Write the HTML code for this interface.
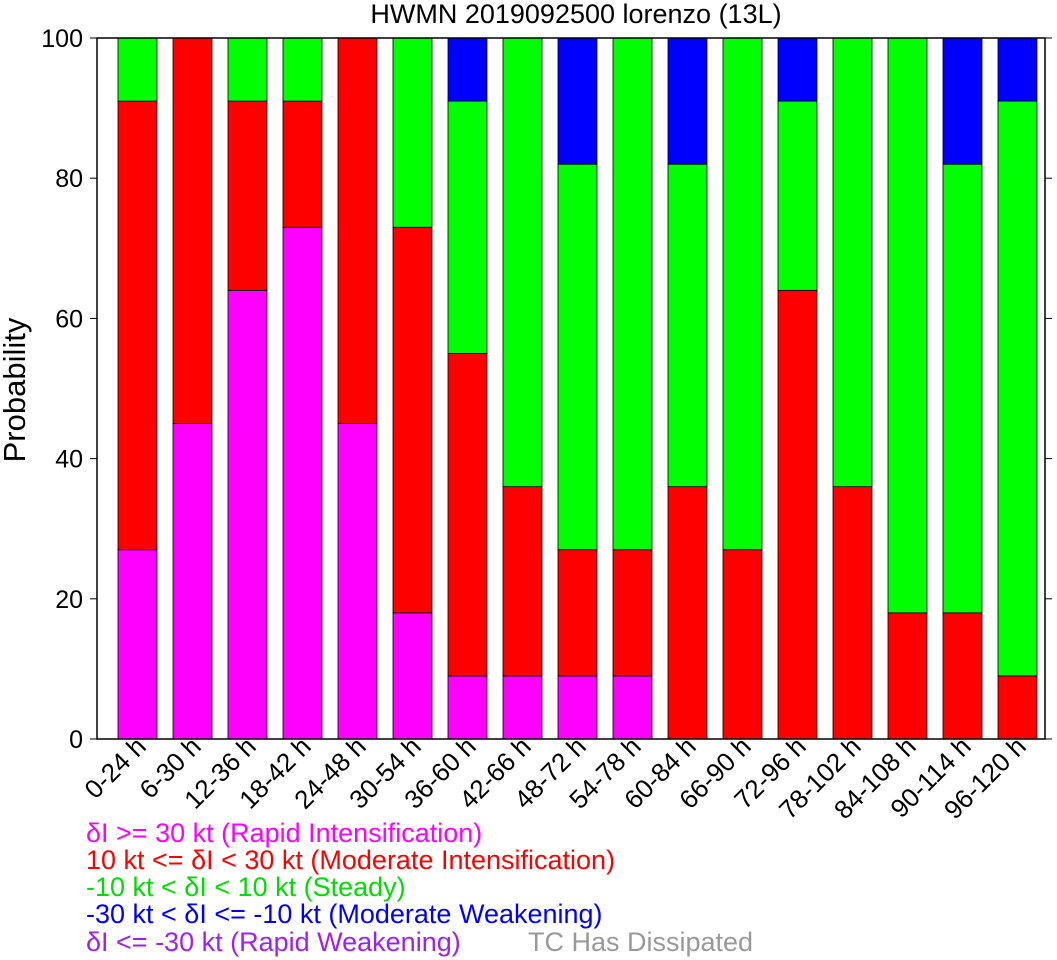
<!DOCTYPE html>
<html><head><meta charset="utf-8"><style>
body{margin:0;background:#fff;}
svg{display:block;font-family:"Liberation Sans",sans-serif;}
</style></head><body>
<svg id="c" width="1057" height="960">
<text x="576" y="23" font-size="27" text-anchor="middle">HWMN 2019092500 lorenzo (13L)</text>
<text transform="translate(25,390) rotate(-90)" font-size="31" text-anchor="middle">Probability</text>
<g id="bars"></g>
<rect x="97" y="38" width="948" height="701" fill="none" stroke="#000" stroke-width="1.5"/>
<g id="axes"></g>
<g font-size="27">
<text x="86" y="842" fill="#ff00ff">δI &gt;= 30 kt (Rapid Intensification)</text>
<text x="86" y="869" fill="#ff0000">10 kt &lt;= δI &lt; 30 kt (Moderate Intensification)</text>
<text x="86" y="896" fill="#00dd00">-10 kt &lt; δI &lt; 10 kt (Steady)</text>
<text x="86" y="923" fill="#0000ff">-30 kt &lt; δI &lt;= -10 kt (Moderate Weakening)</text>
<text x="86" y="951" fill="#a020f0">δI &lt;= -30 kt (Rapid Weakening)</text>
<text x="528" y="951" fill="#999">TC Has Dissipated</text>
</g>
</svg>
<script>
const categories=["0-24 h","6-30 h","12-36 h","18-42 h","24-48 h","30-54 h","36-60 h","42-66 h","48-72 h","54-78 h","60-84 h","66-90 h","72-96 h","78-102 h","84-108 h","90-114 h","96-120 h"];
const rapidInt=[27,45,64,73,45,18,9,9,9,9,0,0,0,0,0,0,0];
const moderateInt=[64,55,27,18,55,55,46,27,18,18,36,27,64,36,18,18,9];
const steady=[9,0,9,9,0,27,36,64,55,73,46,73,27,64,82,64,82];
const moderateWeak=[0,0,0,0,0,0,9,0,18,0,18,0,9,0,0,18,9];
const yTicks=[0,20,40,60,80,100];
const NS="http://www.w3.org/2000/svg";
const y=v=>739-v*7.01;
const xc=i=>137.5+i*55;
const bw=39;
const bars=document.getElementById('bars'),axes=document.getElementById('axes');
const series=[[rapidInt,'#ff00ff','ri'],[moderateInt,'#ff0000','mi'],[steady,'#00ff00','steady'],[moderateWeak,'#0000ff','mw']];
categories.forEach((c,i)=>{
  let base=0;
  series.forEach(([arr,col,nm])=>{
    const v=arr[i]; if(v<=0)return;
    const r=document.createElementNS(NS,'rect');
    r.setAttribute('x',xc(i)-bw/2);r.setAttribute('width',bw);
    r.setAttribute('y',y(base+v));r.setAttribute('height',y(base)-y(base+v));
    r.setAttribute('fill',col);r.setAttribute('stroke','#000');r.setAttribute('stroke-width','0.8');
    
    
    bars.appendChild(r);base+=v;
  });
  const t=document.createElementNS(NS,'text');
  t.setAttribute('transform',`translate(${xc(i)+10},748) rotate(-45)`);
  t.setAttribute('text-anchor','end');t.setAttribute('font-size','26');
  t.textContent=c;
  
  
  axes.appendChild(t);
});
yTicks.forEach(v=>{
  const t=document.createElementNS(NS,'text');
  t.setAttribute('x',83);t.setAttribute('y',y(v)+9);t.setAttribute('text-anchor','end');t.setAttribute('font-size','25');
  t.textContent=v;
  
  
  axes.appendChild(t);
  [[90,97],[1045,1052]].forEach(([a,b])=>{
    const l=document.createElementNS(NS,'line');
    l.setAttribute('x1',a);l.setAttribute('x2',b);l.setAttribute('y1',y(v));l.setAttribute('y2',y(v));l.setAttribute('stroke','#000');
    
    
    axes.appendChild(l);
  });
});
</script>
</body></html>
